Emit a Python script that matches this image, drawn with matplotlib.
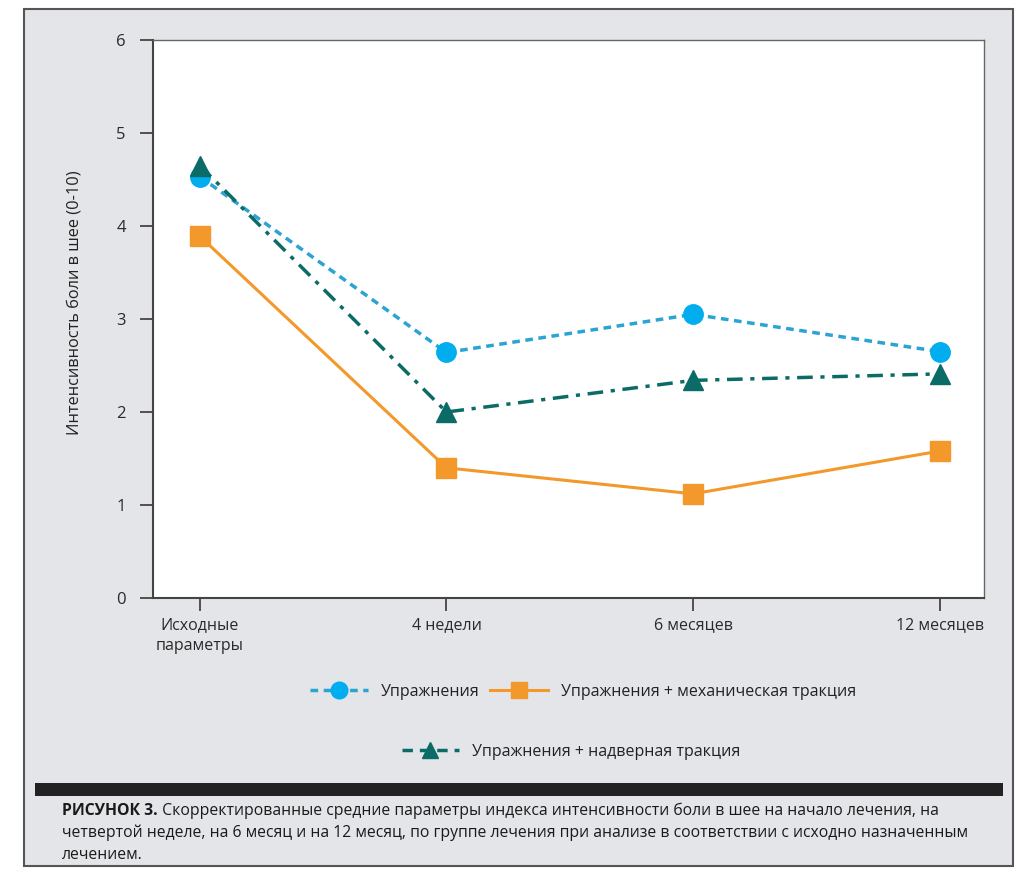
import matplotlib
matplotlib.use("Agg")
import matplotlib.pyplot as plt
from matplotlib.patches import Rectangle
from matplotlib.lines import Line2D

# data
timepoints = ["Исходные\nпараметры", "4 недели", "6 месяцев", "12 месяцев"]
exercise = [4.53, 2.64, 3.05, 2.65]
exercise_mech = [3.89, 1.40, 1.12, 1.58]
exercise_door = [4.65, 2.00, 2.34, 2.41]
series_names = ["Упражнения", "Упражнения + механическая тракция",
                "Упражнения + надверная тракция"]
y_ticks = [0, 1, 2, 3, 4, 5, 6]
y_label = "Интенсивность боли в шее (0-10)"
caption_bold = "РИСУНОК 3."
caption_lines = [
    " Скорректированные средние параметры индекса интенсивности боли в шее на начало лечения, на",
    "четвертой неделе, на 6 месяц и на 12 месяц, по группе лечения при анализе в соответствии с исходно назначенным",
    "лечением.",
]

plt.rcParams["font.family"] = ["Open Sans", "DejaVu Sans"]

W, H = 1023, 874
fig = plt.figure(figsize=(W / 100, H / 100), dpi=100)
fig.patch.set_facecolor("white")


def fx(px):
    return px / W


def fy(py):
    return 1 - py / H


# grey frame around everything
fig.patches.append(Rectangle((fx(24), fy(866)), fx(1013 - 24), (866 - 9) / H,
                             transform=fig.transFigure, facecolor="#e4e5e8",
                             edgecolor="#555555", linewidth=1.5, zorder=-2))
# black band above the caption
fig.patches.append(Rectangle((fx(35), fy(796)), fx(1003 - 35), 13 / H,
                             transform=fig.transFigure, facecolor="#222222",
                             edgecolor="none", zorder=-1))

ax = fig.add_axes([fx(153), fy(598), fx(984 - 153), (598 - 40) / H])
ax.set_zorder(2)
ax.set_facecolor("white")

x = list(range(len(timepoints)))
blue = "#00aeef"
orange = "#f3982a"
teal = "#0b6b66"

ax.plot(x, exercise, color="#2ba3d3", lw=2.5, dashes=(2.2, 1.6),
        marker="o", ms=14, mfc=blue, mec=blue, zorder=3)
ax.plot(x, exercise_mech, color=orange, lw=2.2, linestyle="-",
        marker="s", ms=14, mfc=orange, mec=orange, zorder=3)
ax.plot(x, exercise_door, color=teal, lw=2.5, dashes=(4.5, 2.2, 1.2, 2.2),
        marker="^", ms=14, mfc=teal, mec=teal, zorder=4)

ax.set_xlim(-0.19, 3.18)
ax.set_ylim(0, 6)
ax.set_yticks(y_ticks)
ax.set_xticks(x)
ax.set_xticklabels(timepoints, linespacing=1.45)

for s in ["left", "bottom"]:
    ax.spines[s].set_color("#444444")
    ax.spines[s].set_linewidth(1.5)
for s in ["top", "right"]:
    ax.spines[s].set_color("#666666")
    ax.spines[s].set_linewidth(1.0)

ax.tick_params(axis="y", length=9.5, width=1.3, color="#444444", pad=10,
               labelsize=12, labelcolor="#2a2a2a")
ax.tick_params(axis="x", length=9.5, width=1.3, color="#444444", pad=4,
               labelsize=11.5, labelcolor="#2a2a2a")

fig.text(fx(75), fy(303), y_label, rotation=90, ha="center", va="center",
         fontsize=11.8, color="#222222")

# legend, two rows
h1 = Line2D([], [], color="#2ba3d3", lw=2.5, dashes=(2.2, 1.6), marker="o",
            ms=12, mfc=blue, mec=blue)
h2 = Line2D([], [], color=orange, lw=2.2, marker="s", ms=12, mfc=orange, mec=orange)
h3 = Line2D([], [], color=teal, lw=2.5, dashes=(3, 2), marker="^", ms=12,
            mfc=teal, mec=teal)
leg1 = fig.legend([h1, h2], series_names[:2], loc="center",
                  bbox_to_anchor=(fx(583), fy(692)), ncol=2, frameon=False,
                  handlelength=3.6, handletextpad=0.8, columnspacing=0.7,
                  fontsize=11.5)
leg2 = fig.legend([h3], series_names[2:], loc="center",
                  bbox_to_anchor=(fx(571), fy(752)), frameon=False,
                  handlelength=3.6, handletextpad=0.8, fontsize=11.5)
for lg in (leg1, leg2):
    for t in lg.get_texts():
        t.set_color("#222222")

# caption with bold lead-in
cap_size = 11.3
t0 = fig.text(fx(62), fy(815), caption_bold, fontsize=cap_size,
              fontweight="bold", color="#1a1a1a", va="baseline")
fig.canvas.draw()
bb = t0.get_window_extent()
fig.text(bb.x1 / W, fy(815), caption_lines[0], fontsize=cap_size,
         color="#1a1a1a", va="baseline")
fig.text(fx(62), fy(837), caption_lines[1], fontsize=cap_size,
         color="#1a1a1a", va="baseline")
fig.text(fx(62), fy(859), caption_lines[2], fontsize=cap_size,
         color="#1a1a1a", va="baseline")

fig.savefig("out.png", dpi=100)
